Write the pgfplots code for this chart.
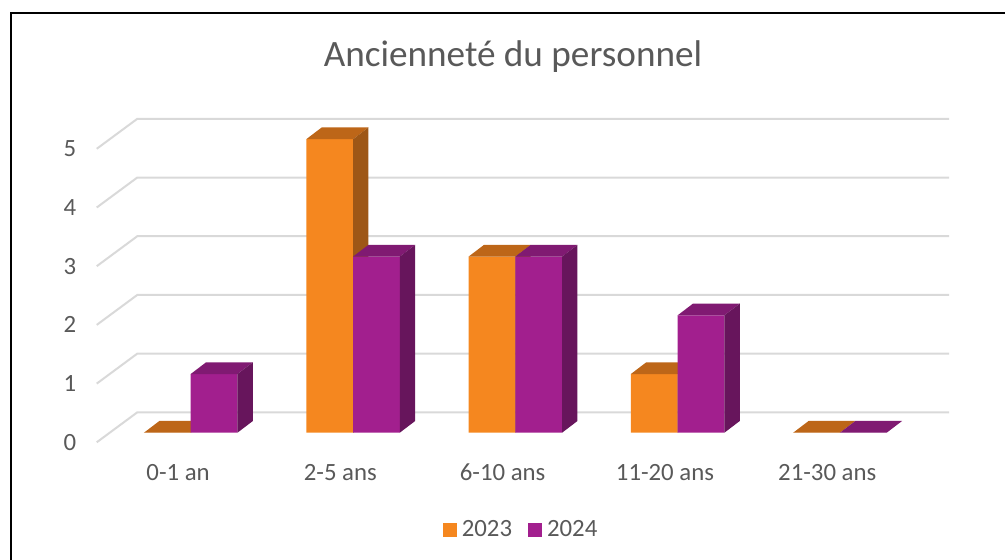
\documentclass[border=0pt]{standalone}
\usepackage{fontspec}
\setmainfont{Carlito}
\usepackage{pgfplots}
\pgfplotsset{compat=1.18}
\definecolor{oF}{HTML}{F5871F}
\definecolor{oT}{HTML}{BD6618}
\definecolor{oS}{HTML}{9E5716}
\definecolor{pF}{HTML}{A21F8E}
\definecolor{pT}{HTML}{801A72}
\definecolor{pS}{HTML}{67155C}
\definecolor{gridc}{HTML}{D9D9D9}
\definecolor{txt}{HTML}{595959}
\begin{document}
\begin{tikzpicture}
\useasboundingbox (0,0) rectangle (502.5pt,279.5pt);
\begin{axis}[at={(0,0)}, anchor=south west, scale only axis,
  width=502.5pt, height=279.5pt,
  xmin=-1.175, xmax=5.017, ymin=-2.1516, ymax=7.3714,
  clip=false,
  axis line style={draw=none}, major tick length=0pt,
  /pgf/number format/assume math mode=true,
  xtick={-0.078,0.922,1.922,2.922,3.922},
  xticklabels={0-1 an,2-5 ans,6-10 ans,11-20 ans,21-30 ans},
  ytick={-0.1635,0.8365,1.8365,2.8365,3.8365,4.8365},
  yticklabels={0,1,2,3,4,5},
  xticklabel style={anchor=base, yshift=39.5pt},
  yticklabel style={anchor=center, xshift=35pt},
  tick label style={font=\fontsize{12.4}{14}\selectfont, text=txt},
  legend style={at={(0.5195,0.0524)}, anchor=center, draw=none, fill=none,
    font=\fontsize{12.4}{14}\selectfont, text=txt,
    /tikz/every even column/.append style={column sep=6pt}},
  legend columns=2,
  legend image code/.code={\fill[#1] (0pt,-3.5pt) rectangle (7pt,3.5pt);\path (7.5pt,0pt);},
]
% gridlines with diagonal wall ticks
\addplot[gridc, line width=1pt, forget plot] coordinates {(-0.579,-0.1635) (-0.329,0.3475) (4.672,0.3475)};
\addplot[gridc, line width=1pt, forget plot] coordinates {(-0.579,0.8365) (-0.329,1.3475) (4.672,1.3475)};
\addplot[gridc, line width=1pt, forget plot] coordinates {(-0.579,1.8365) (-0.329,2.3475) (4.672,2.3475)};
\addplot[gridc, line width=1pt, forget plot] coordinates {(-0.579,2.8365) (-0.329,3.3475) (4.672,3.3475)};
\addplot[gridc, line width=1pt, forget plot] coordinates {(-0.579,3.8365) (-0.329,4.3475) (4.672,4.3475)};
\addplot[gridc, line width=1pt, forget plot] coordinates {(-0.579,4.8365) (-0.329,5.3475) (4.672,5.3475)};
% 2023 front faces
\addplot[ybar, bar width=0.288, bar shift=-0.144, fill=oF, draw=none, forget plot]
  coordinates {(0,0) (1,5) (2,3) (3,1) (4,0)};
% 2023 top faces
\addplot[fill=oT, draw=none, forget plot] coordinates {(-0.288,0) (0,0) (0.095,0.2) (-0.193,0.2)};
\addplot[fill=oT, draw=none, forget plot] coordinates {(0.712,5) (1,5) (1.095,5.2) (0.807,5.2)};
\addplot[fill=oT, draw=none, forget plot] coordinates {(1.712,3) (2,3) (2.095,3.2) (1.807,3.2)};
\addplot[fill=oT, draw=none, forget plot] coordinates {(2.712,1) (3,1) (3.095,1.2) (2.807,1.2)};
\addplot[fill=oT, draw=none, forget plot] coordinates {(3.712,0) (4,0) (4.095,0.2) (3.807,0.2)};
% 2023 side faces
\addplot[fill=oS, draw=none, forget plot] coordinates {(1,0) (1.095,0.2) (1.095,5.2) (1,5)};
\addplot[fill=oS, draw=none, forget plot] coordinates {(2,0) (2.095,0.2) (2.095,3.2) (2,3)};
\addplot[fill=oS, draw=none, forget plot] coordinates {(3,0) (3.095,0.2) (3.095,1.2) (3,1)};
% 2024 front faces
\addplot[ybar, bar width=0.288, bar shift=0.144, fill=pF, draw=none, forget plot]
  coordinates {(0,1) (1,3) (2,3) (3,2) (4,0)};
% 2024 top faces
\addplot[fill=pT, draw=none, forget plot] coordinates {(0,1) (0.288,1) (0.383,1.2) (0.095,1.2)};
\addplot[fill=pT, draw=none, forget plot] coordinates {(1,3) (1.288,3) (1.383,3.2) (1.095,3.2)};
\addplot[fill=pT, draw=none, forget plot] coordinates {(2,3) (2.288,3) (2.383,3.2) (2.095,3.2)};
\addplot[fill=pT, draw=none, forget plot] coordinates {(3,2) (3.288,2) (3.383,2.2) (3.095,2.2)};
\addplot[fill=pT, draw=none, forget plot] coordinates {(4,0) (4.288,0) (4.383,0.2) (4.095,0.2)};
% 2024 side faces
\addplot[fill=pS, draw=none, forget plot] coordinates {(0.288,0) (0.383,0.2) (0.383,1.2) (0.288,1)};
\addplot[fill=pS, draw=none, forget plot] coordinates {(1.288,0) (1.383,0.2) (1.383,3.2) (1.288,3)};
\addplot[fill=pS, draw=none, forget plot] coordinates {(2.288,0) (2.383,0.2) (2.383,3.2) (2.288,3)};
\addplot[fill=pS, draw=none, forget plot] coordinates {(3.288,0) (3.383,0.2) (3.383,2.2) (3.288,2)};
\addlegendimage{fill=oF, draw=none}
\addlegendentry{2023}
\addlegendimage{fill=pF, draw=none}
\addlegendentry{2024}
\node[font=\fontsize{18.6}{22}\selectfont, text=txt] at (axis description cs:0.5104,0.898) {Ancienneté du personnel};
\end{axis}
\draw[line width=1pt] (5.25pt,-2pt) -- (5.25pt,273.1pt) -- (510pt,273.1pt);
\end{tikzpicture}
\end{document}
